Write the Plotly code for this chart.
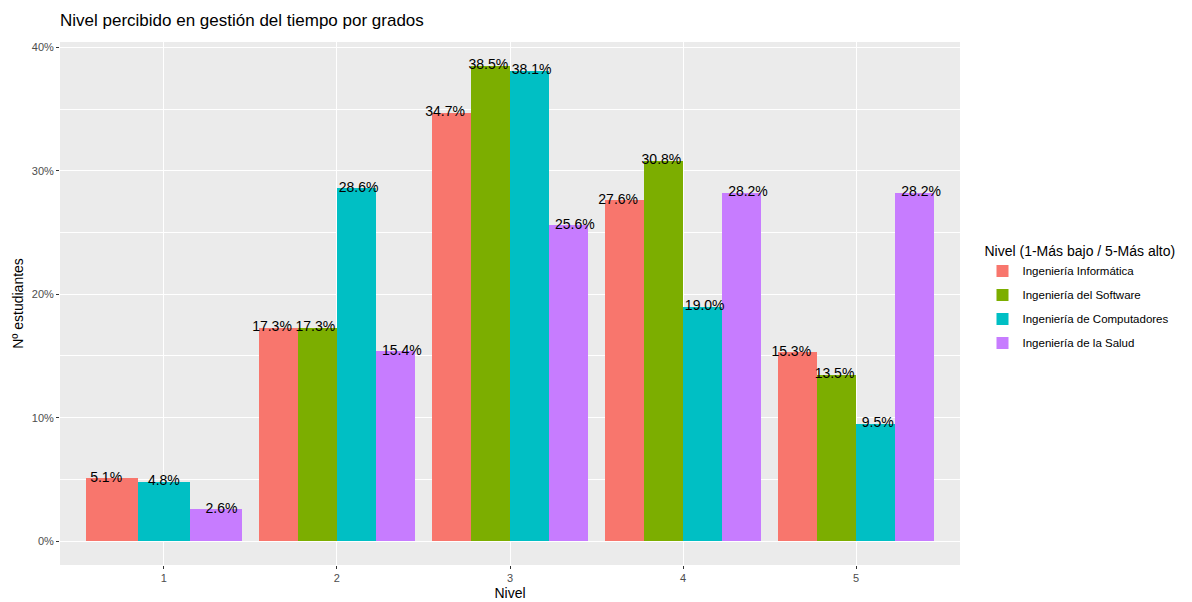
import plotly.graph_objects as go

niveles = [1, 2, 3, 4, 5]
grados = ["Ingeniería Informática", "Ingeniería del Software",
          "Ingeniería de Computadores", "Ingeniería de la Salud"]
informatica = [5.1, 17.3, 34.7, 27.6, 15.3]
software = [None, 17.3, 38.5, 30.8, 13.5]
computadores = [4.8, 28.6, 38.1, 19.0, 9.5]
salud = [2.6, 15.4, 25.6, 28.2, 28.2]
colores = ["#F8766D", "#7CAE00", "#00BFC4", "#C77CFF"]

series = [informatica, software, computadores, salud]

fig = go.Figure()

# ggplot-style dodge: per category, only present groups share the 0.9 width
BAR_W = 0.9
TXT_W = 1.0
bars = {g: dict(x=[], y=[], w=[]) for g in grados}
texts = dict(x=[], y=[], t=[])
for ci, lv in enumerate(niveles):
    present = [gi for gi, s in enumerate(series) if s[ci] is not None]
    n = len(present)
    for k, gi in enumerate(present):
        v = series[gi][ci]
        off = (k - (n - 1) / 2)
        bars[grados[gi]]["x"].append(lv + off * BAR_W / n)
        bars[grados[gi]]["y"].append(v)
        bars[grados[gi]]["w"].append(BAR_W / n)
        texts["x"].append(lv + off * TXT_W / n)
        texts["y"].append(v)
        texts["t"].append(f"{v:.1f}%")

for gi, g in enumerate(grados):
    b = bars[g]
    fig.add_trace(go.Bar(x=b["x"], y=b["y"], width=b["w"], name=g,
                         legendgroup=g,
                         marker=dict(color=colores[gi], line=dict(width=0)),
                         hoverinfo="y"))

fig.add_trace(go.Scatter(x=texts["x"], y=texts["y"], text=texts["t"], mode="text",
                         textposition="middle center",
                         textfont=dict(size=14, color="black", family="Liberation Sans, Arial"),
                         showlegend=False, hoverinfo="skip"))

fig.update_layout(
    width=1192, height=602,
    margin=dict(l=60, r=232, t=42, b=37, autoexpand=False),
    paper_bgcolor="white", plot_bgcolor="#EBEBEB",
    font=dict(family="Liberation Sans, Arial", color="black"),
    title=dict(text="Nivel percibido en gestión del tiempo por grados",
               xref="paper", x=0, xanchor="left",
               yref="container", y=1 - 20 / 602, yanchor="middle",
               pad=dict(l=0, r=0, t=0, b=0),
               font=dict(size=17, color="black")),
    bargap=0, barmode="overlay",
    legend=dict(x=1.025, xanchor="left", y=0.51, yanchor="middle",
                title=dict(text="Nivel (1-Más bajo / 5-Más alto)", font=dict(size=14)),
                font=dict(size=11.5), bgcolor="rgba(0,0,0,0)",
                traceorder="grouped", itemsizing="constant", tracegroupgap=5),
    showlegend=True,
)

fig.update_xaxes(range=[0.4, 5.6], tickvals=niveles, ticktext=[str(v) for v in niveles],
                 automargin=False,
                 showgrid=True, gridcolor="white", gridwidth=1.2, zeroline=False,
                 ticks="outside", ticklen=3, tickcolor="#333333",
                 tickfont=dict(size=11, color="#4D4D4D"),
                 title=dict(text="Nivel", font=dict(size=14), standoff=4))
fig.update_yaxes(range=[-1.925, 40.425], tickvals=[0, 10, 20, 30, 40],
                 ticktext=["0%", "10%", "20%", "30%", "40%"],
                 automargin=False,
                 showgrid=True, gridcolor="white", gridwidth=1.2, zeroline=False,
                 minor=dict(tickvals=[5, 15, 25, 35], showgrid=True, gridcolor="white", gridwidth=0.5),
                 ticks="outside", ticklen=3, tickcolor="#333333",
                 tickfont=dict(size=11, color="#4D4D4D"),
                 title=dict(text="Nº estudiantes", font=dict(size=14), standoff=4))

fig.write_html("out.html", config={"displayModeBar": False},
               post_script="document.body.style.margin='0';document.body.style.padding='0';")
